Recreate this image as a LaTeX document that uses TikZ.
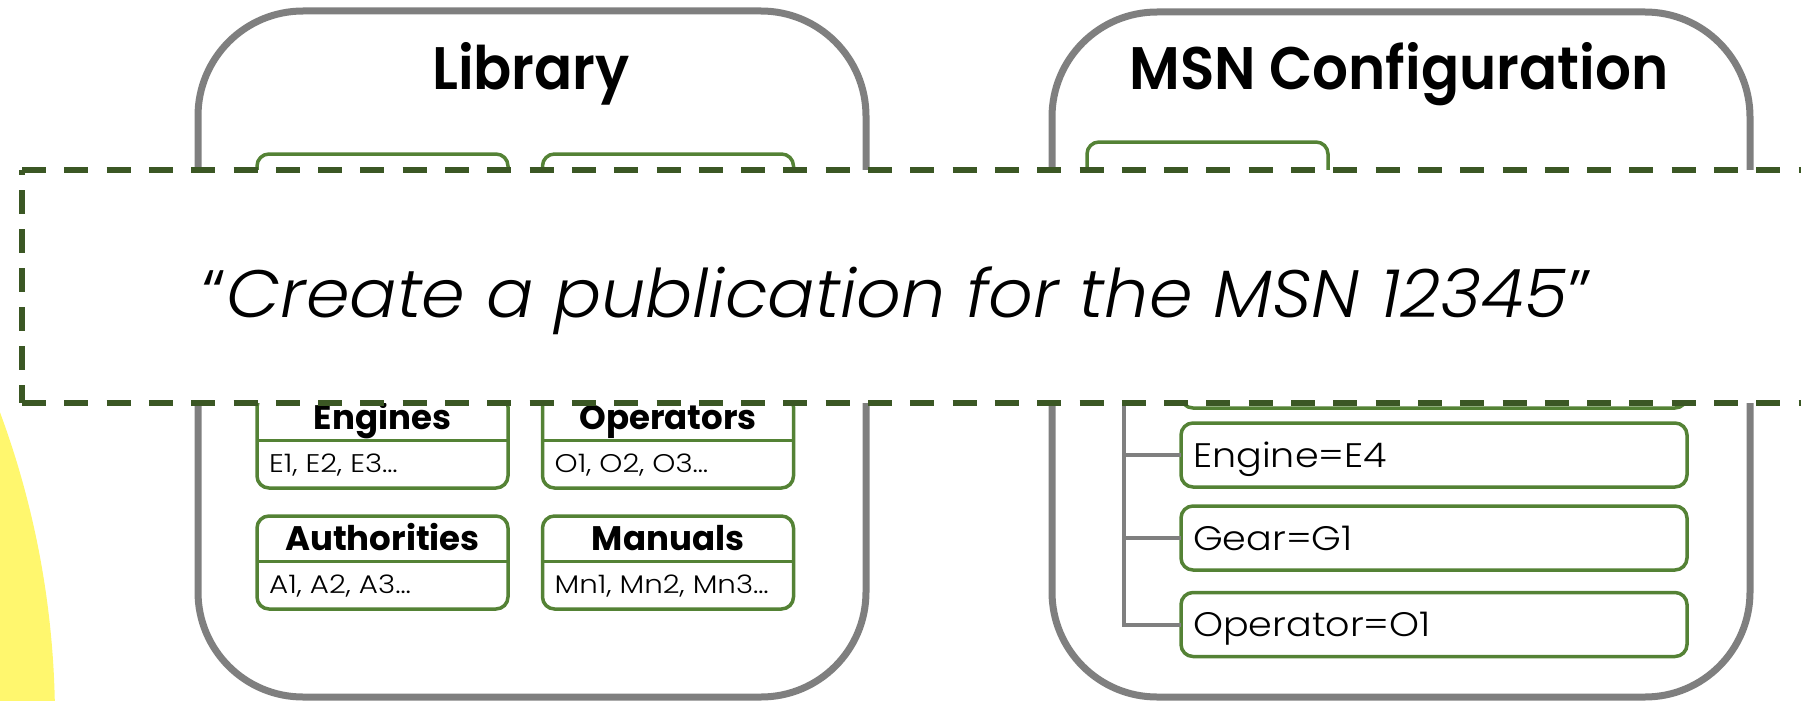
\documentclass[tikz,border=0pt]{standalone}
\usepackage{fontspec}
\setmainfont{Poppins}
\newfontfamily\plight{Poppins Light}[ItalicFont={Poppins Light Italic}]
\newfontfamily\pquote{Poppins Light}[ItalicFont={Poppins Light Italic}, FakeStretch=1.045]
\newfontfamily\pwide{Poppins Light}[FakeStretch=1.12]
\newfontfamily\pbody{Poppins Light}[FakeStretch=1.15]
\newfontfamily\ptitle{Poppins SemiBold}[FakeStretch=0.94]
\usetikzlibrary{calc}
\definecolor{graybox}{HTML}{7F7F7F}
\definecolor{greenbox}{HTML}{548235}
\definecolor{dashgreen}{HTML}{3B5724}
\definecolor{sunyellow}{HTML}{FFF76E}
\tikzset{
  outerbox/.style={draw=graybox, line width=7pt, rounded corners=105pt, inner sep=0pt, outer sep=0pt},
  bigtitle/.style={font=\ptitle\fontsize{60}{60}\selectfont, inner sep=0pt, anchor=base},
  card/.style={draw=greenbox, line width=3.5pt, rounded corners=12pt, fill=white,
    minimum width=251pt, minimum height=93pt, inner sep=0pt, outer sep=0pt, anchor=north},
  divider/.style={draw=greenbox, line width=3pt},
  cardtitle/.style={font=\bfseries\fontsize{34}{34}\selectfont, inner sep=0pt, anchor=base},
  cardbody/.style={font=\pbody\fontsize{25.5}{25.5}\selectfont, inner sep=0pt, anchor=base west},
  msnroot/.style={draw=greenbox, line width=3.5pt, rounded corners=12pt, fill=white,
    minimum width=241pt, minimum height=64pt, inner sep=0pt, outer sep=0pt, anchor=north},
  msnchild/.style={draw=greenbox, line width=3.5pt, rounded corners=12pt, fill=white,
    minimum width=506pt, minimum height=64pt, inner sep=0pt, outer sep=0pt},
  msntext/.style={font=\pwide\fontsize{34}{34}\selectfont, inner sep=0pt, anchor=base west},
  treeline/.style={draw=graybox, line width=4pt},
  quotebox/.style={fill=white, minimum width=1808pt, minimum height=233pt, inner sep=0pt, outer sep=0pt},
  dashline/.style={draw=dashgreen, line width=6pt, dash pattern=on 24pt off 18.3pt},
  quotetext/.style={font=\pquote\fontsize{67}{67}\selectfont, inner sep=0pt, anchor=base}
}
\newcommand{\libcard}[5]{%
  \node[card] (#1) at (#2,#3) {};
  \draw[divider] ($(#1.north west)+(0,45)$) -- ($(#1.north east)+(0,45)$);
  \node[cardtitle] (#1-t) at ($(#1.north)+(0,34)$) {#4};
  \node[cardbody] (#1-b) at ($(#1.north west)+(12,77)$) {#5};
}
\begin{document}
\begin{tikzpicture}[x=1pt,y=-1pt]
\useasboundingbox (0,0) rectangle (1801,701);
\begin{scope}
  \clip (0,0) rectangle (1801,701);
  \fill[sunyellow] (-829,720) circle[radius=884pt];
\end{scope}

% outer boxes
\node[outerbox, minimum width=668pt, minimum height=686pt] (lib) at (532,354) {};
\node[bigtitle] (libtitle) at (531,89) {Library};
\node[outerbox, minimum width=698pt, minimum height=685pt] (msn) at (1401,354.5) {};
\node[bigtitle] (msntitle) at (1399,89) {MSN Configuration};

% library cards
\node[card] (r1a) at (382.5,154) {};
\node[card] (r1b) at (668,154) {};
\libcard{eng}{382.5}{395}{Engines}{E1, E2, E3…}
\libcard{ope}{668}{395}{Operators}{O1, O2, O3…}
\libcard{aut}{382.5}{516}{Authorities}{A1, A2, A3…}
\libcard{man}{668}{516}{Manuals}{Mn1, Mn2, Mn3…}

% MSN configuration tree
\node[msnroot] (root) at (1207.5,142) {};
\coordinate (trunk) at ($(root.south west)+(37,0)$);
\node[msnchild] (c4) at (1434,376) {};
\node[msnchild] (c5) at (1434,455) {};
\node[msnchild] (c6) at (1434,538) {};
\node[msnchild] (c7) at (1434,624.5) {};
\draw[treeline] (trunk) |- (c4.west);
\draw[treeline] (trunk) |- (c5.west);
\draw[treeline] (trunk) |- (c6.west);
\draw[treeline] (trunk) |- (c7.west);
\node[msntext] (t5) at ($(c5.west)+(12,12)$) {Engine=E4};
\node[msntext] (t6) at ($(c6.west)+(12,12)$) {Gear=G1};
\node[msntext] (t7) at ($(c7.west)+(12,12)$) {Operator=O1};

% quote banner
\node[quotebox, anchor=north west] (qb) at (22,170) {};
\draw[dashline] (qb.north west) -- (qb.north east);
\draw[dashline] (qb.south west) -- (qb.south east);
\draw[dashline, dash pattern=on 24pt off 15pt, dash phase=19pt] (qb.north west) -- (qb.south west);
\node[quotetext] (qt) at (897.5,317) {“{\itshape Create a publication for the MSN 12345}”};
\end{tikzpicture}
\end{document}
